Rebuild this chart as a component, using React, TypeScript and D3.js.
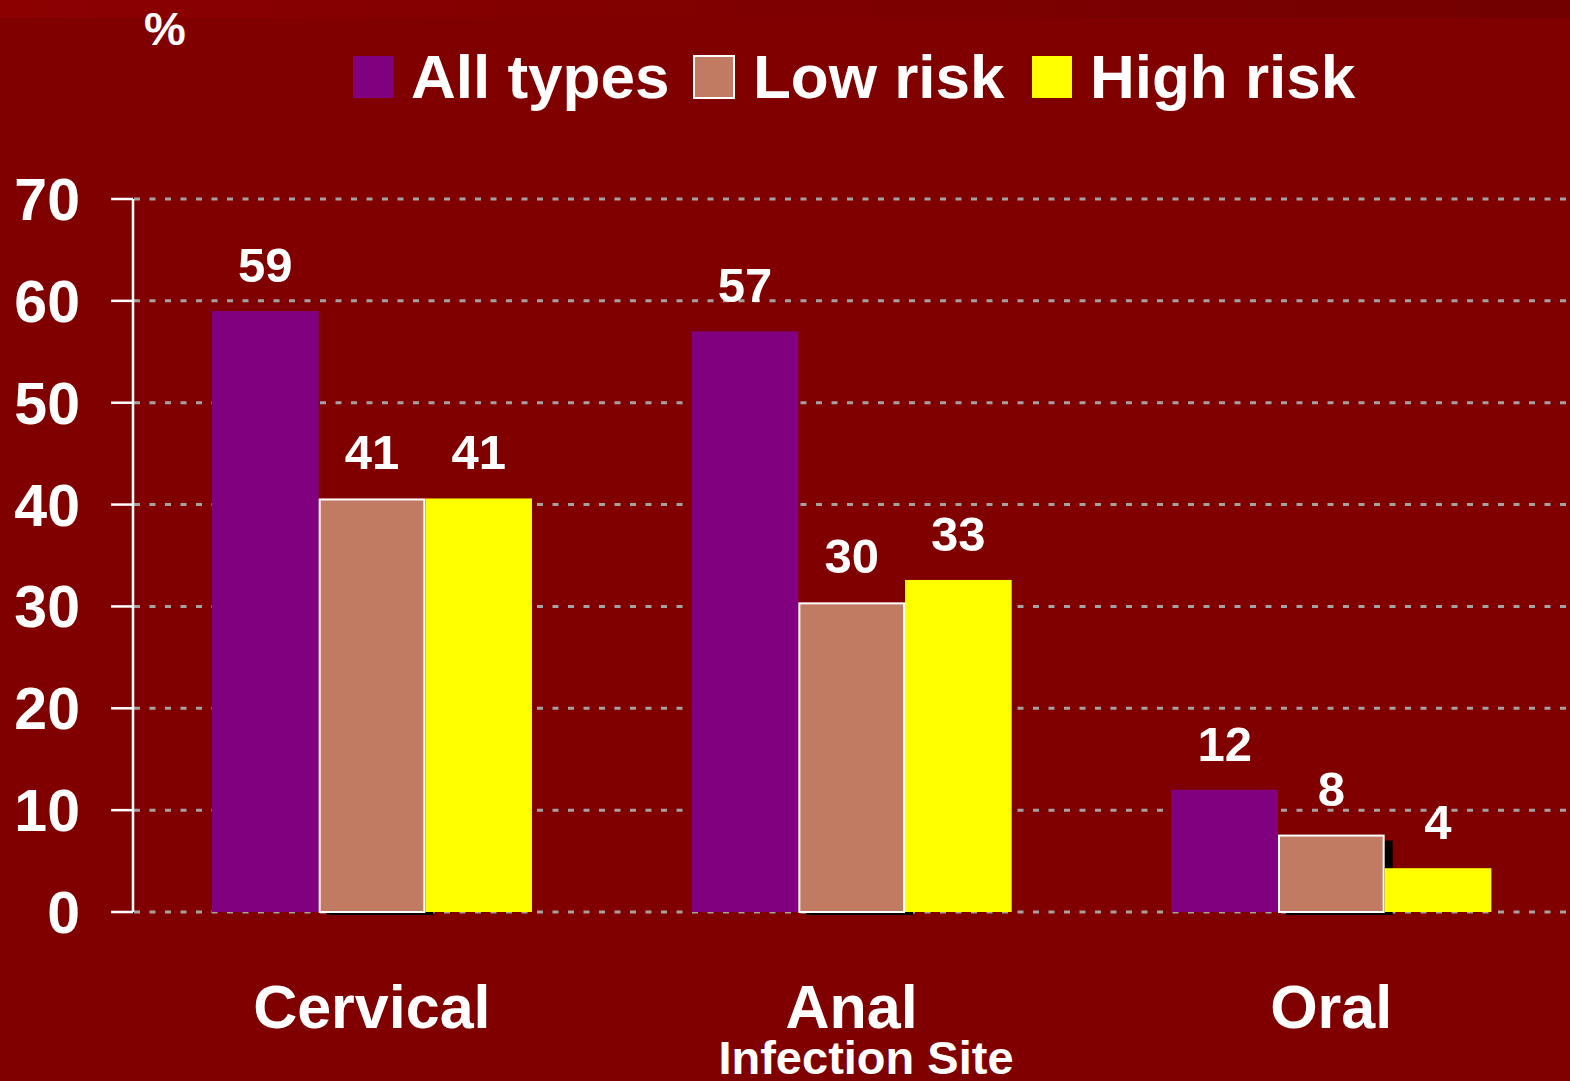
import React from "react";
import * as d3 from "d3";

const categories = ["Cervical", "Anal", "Oral"];
const seriesNames = ["All types", "Low risk", "High risk"];
const allTypes = [59, 57, 12];
const lowRisk = [40.6, 30.4, 7.6];
const highRisk = [40.6, 32.6, 4.3];
const yTicks = [0, 10, 20, 30, 40, 50, 60, 70];
const seriesColors = ["#800080", "#c07b62", "#ffff00"];

const W = 1570;
const H = 1081;
const FONT = "'Liberation Sans', Arial, Helvetica, sans-serif";

export default function App() {
  const x0 = d3.scaleBand<string>().domain(categories).range([132, 1571]).padding(0);
  const x1 = d3.scaleBand<string>().domain(seriesNames).range([80, 400]).padding(0);
  const y = d3.scaleLinear().domain([0, 70]).range([912, 199]);
  const seriesValues = [allTypes, lowRisk, highRisk];

  const bars: any[] = [];
  categories.forEach((c, ci) => {
    seriesNames.forEach((s, si) => {
      bars.push({ c, s, si, v: seriesValues[si][ci] });
    });
  });

  return (
    <svg
      width={W}
      height={H}
      style={{ position: "fixed", left: 0, top: 0, display: "block" }}
      fontFamily={FONT}
    >
      <defs>
        <linearGradient id="topband" x1="0" x2="1" y1="0" y2="0">
          <stop offset="0" stopColor="#8c0000" />
          <stop offset="1" stopColor="#720000" />
        </linearGradient>
      </defs>
      <rect x={0} y={0} width={W} height={H} fill="#800000" />
      <rect x={0} y={0} width={W} height={18} fill="url(#topband)" />

      {/* gridlines */}
      {yTicks.map((t) => (
        <line
          key={"g" + t}
          x1={134}
          x2={W}
          y1={y(t)}
          y2={y(t)}
          stroke="#a3a3a3"
          strokeWidth={3}
          strokeDasharray="6 9.5"
        />
      ))}

      {/* shadows for low risk bars */}
      {bars
        .filter((b) => b.si === 1)
        .map((b, i) => {
          const bx = x0(b.c)! + x1(b.s)!;
          const bw = x1.bandwidth();
          return (
            <rect
              key={"sh" + i}
              x={bx + 8}
              y={y(b.v) + 6}
              width={bw}
              height={y(0) - y(b.v) - 3}
              fill="#000"
            />
          );
        })}

      {/* bars */}
      {bars.map((b, i) => {
        const bx = x0(b.c)! + x1(b.s)!;
        const bw = x1.bandwidth();
        if (b.si === 1) {
          return (
            <rect
              key={"b" + i}
              x={bx + 1}
              y={y(b.v) + 1}
              width={bw - 2}
              height={y(0) - y(b.v) - 1}
              fill={seriesColors[b.si]}
              stroke="#ffffff"
              strokeWidth={2}
            />
          );
        }
        return (
          <rect
            key={"b" + i}
            x={bx}
            y={y(b.v)}
            width={bw}
            height={y(0) - y(b.v)}
            fill={seriesColors[b.si]}
          />
        );
      })}

      {/* value labels */}
      {bars.map((b, i) => {
        const bx = x0(b.c)! + x1(b.s)! + x1.bandwidth() / 2;
        return (
          <text
            key={"l" + i}
            x={bx}
            y={y(b.v) - 29}
            textAnchor="middle"
            fill="#fff"
            fontWeight="bold"
            fontSize={49}
          >
            {Math.round(b.v)}
          </text>
        );
      })}

      {/* axis */}
      <line x1={133} x2={133} y1={y(70)} y2={y(0)} stroke="#fff" strokeWidth={2.5} />
      {yTicks.map((t) => (
        <g key={"t" + t}>
          <line x1={111} x2={133} y1={y(t)} y2={y(t)} stroke="#fff" strokeWidth={2.5} />
          <text
            x={80}
            y={y(t) + 21}
            textAnchor="end"
            fill="#fff"
            fontWeight="bold"
            fontSize={59}
          >
            {t}
          </text>
        </g>
      ))}

      {/* category labels */}
      {categories.map((c) => (
        <text
          key={"c" + c}
          x={x0(c)! + x0.bandwidth() / 2}
          y={1028}
          textAnchor="middle"
          fill="#fff"
          fontWeight="bold"
          fontSize={61}
        >
          {c}
        </text>
      ))}
      <text x={866} y={1074} textAnchor="middle" fill="#fff" fontWeight="bold" fontSize={47}>
        Infection Site
      </text>

      {/* % unit */}
      <text x={144} y={45} fill="#fff" fontWeight="bold" fontSize={47}>
        %
      </text>

      {/* legend */}
      {seriesNames.map((s, i) => {
        const lx = [353, 694, 1032][i];
        const tx = [411, 753, 1090][i];
        return (
          <g key={"lg" + s}>
            <rect
              x={lx}
              y={56}
              width={40}
              height={42}
              fill={seriesColors[i]}
              stroke={i === 1 ? "#fff" : "none"}
              strokeWidth={2}
            />
            <text x={tx} y={98} fill="#fff" fontWeight="bold" fontSize={62}>
              {s}
            </text>
          </g>
        );
      })}
    </svg>
  );
}
